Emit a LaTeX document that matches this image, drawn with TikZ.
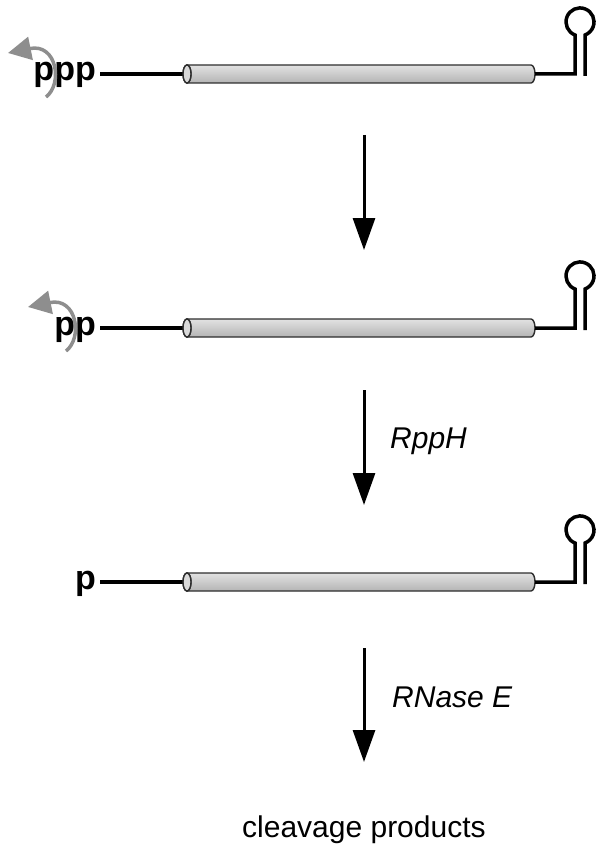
\documentclass[tikz,border=0pt]{standalone}
\usepackage{fontspec}
\setmainfont{Liberation Sans}
\usetikzlibrary{arrows.meta,shapes.geometric}
\definecolor{cylTop}{HTML}{E2E2E2}
\definecolor{cylBot}{HTML}{B4B4B4}
\definecolor{cylLine}{HTML}{2E2E2E}
\definecolor{arcGray}{HTML}{8E8E8E}
\begin{document}
\begin{tikzpicture}[x=1pt,y=-1pt,
  rna/.style={line width=3.5pt,black},
  cylbody/.style={draw=cylLine,line width=1.4pt,top color=cylTop,bottom color=cylBot},
  endcap/.style={ellipse,draw=cylLine,line width=1.4pt,fill=cylTop!80!cylBot,minimum width=8pt,minimum height=18pt,inner sep=0pt},
  bigarrow/.style={line width=3pt,-{Triangle[length=32pt,width=22pt]}},
  grayarrow/.style={line width=3.5pt,arcGray,-{Triangle[length=23pt,width=23pt]}},
  phos/.style={font=\fontsize{34}{40}\selectfont\bfseries,inner sep=0pt,anchor=base east},
  enz/.style={font=\fontsize{30}{36}\selectfont\itshape,inner sep=0pt,anchor=base west},
  prod/.style={font=\fontsize{30}{36}\selectfont,inner sep=0pt,anchor=base west}]
\useasboundingbox (0,0) rectangle (604,853);

\foreach \r/\Y/\txt in {1/74/ppp,2/328/pp,3/582/p}{
  % 5' label
  \node[phos] (lab\r) at (96,\Y+7) {\txt};
  \coordinate (s\r) at (100,\Y);
  % cylinder (coding region)
  \path[cylbody] (187,\Y-9) -- (531,\Y-9) arc (-90:90:4 and 9) -- (187,\Y+9) -- cycle;
  \node[endcap] (cap\r) at (187,\Y) {};
  \coordinate (e\r) at (535,\Y);
  % 5' leader
  \draw[rna] (s\r) -- (cap\r.center);
  \node[endcap] at (cap\r) {};
  % 3' stem-loop
  \draw[rna] (e\r) -- (575,\Y) -- (575,\Y-39) arc (111:429:14) -- (585,\Y+2);
}

% gray arcs (phosphate removal)
\coordinate (g1s) at (46,97);
\coordinate (g1e) at (8,53);
\draw[grayarrow] (g1s) .. controls (63,84) and (57,43) .. (g1e);
\coordinate (g2s) at (66,351);
\coordinate (g2e) at (28,307);
\draw[grayarrow] (g2s) .. controls (83,338) and (77,297) .. (g2e);

% vertical reaction arrows
\coordinate (a1s) at (364,135);
\coordinate (a1e) at (364,250);
\draw[bigarrow] (a1s) -- (a1e);
\coordinate (a2s) at (364,390);
\coordinate (a2e) at (364,505);
\draw[bigarrow] (a2s) -- (a2e);
\coordinate (a3s) at (364,648);
\coordinate (a3e) at (364,762);
\draw[bigarrow] (a3s) -- (a3e);

\node[enz] (rpph) at (390,448) {RppH};
\node[enz] (rnase) at (392,707) {RNase E};
\node[prod] (prod) at (242,837) {cleavage products};
\end{tikzpicture}
\end{document}
